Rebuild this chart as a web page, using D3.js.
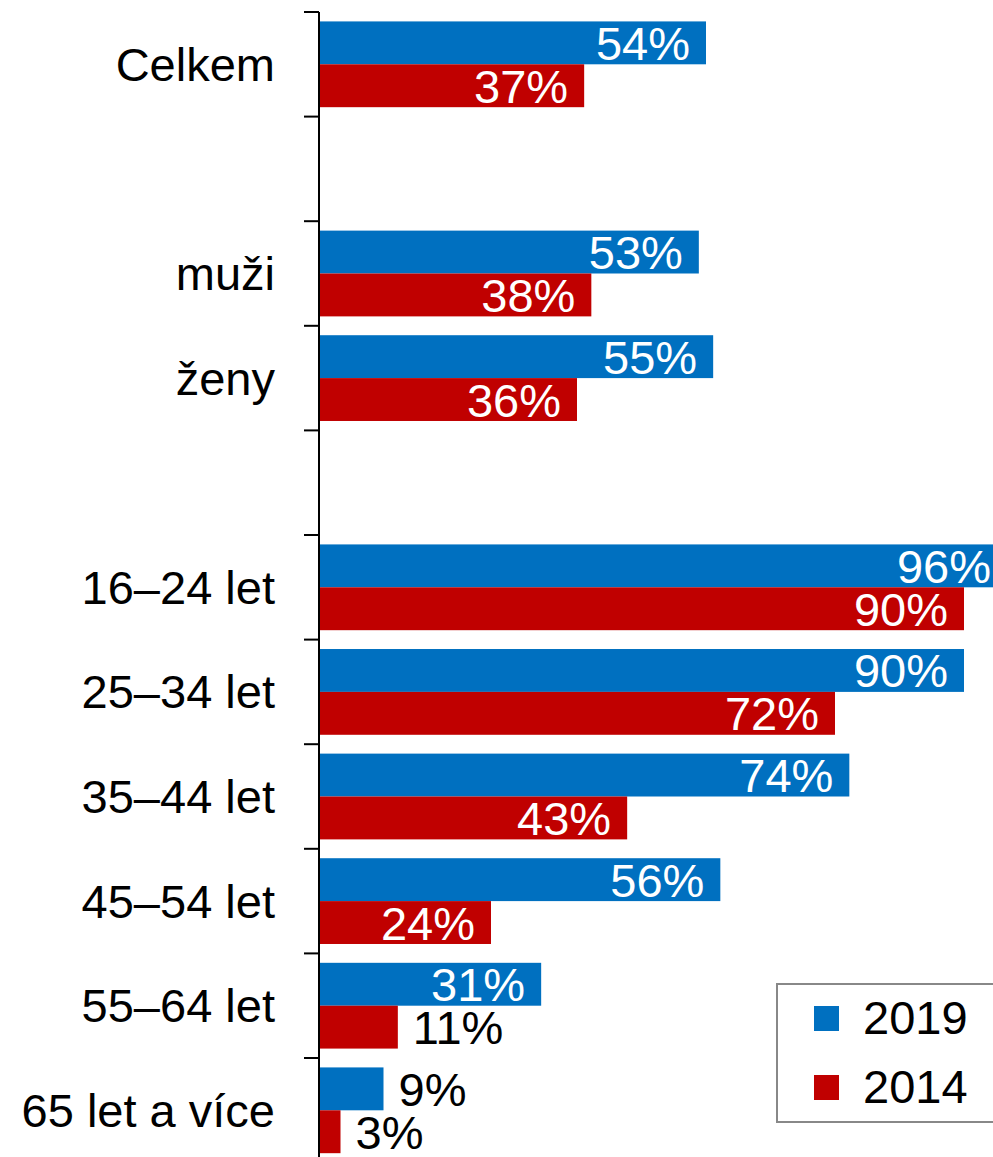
<!DOCTYPE html>
<html><head><meta charset="utf-8">
<script src="https://cdn.jsdelivr.net/npm/d3@7"></script>
<style>body{margin:0;background:#fff}svg{display:block;font-family:"Liberation Sans",Arial,sans-serif}</style>
</head><body><svg id="c" width="993" height="1157"></svg>
<script>
const categories = ["Celkem", "", "muži", "ženy", "", "16–24 let", "25–34 let", "35–44 let", "45–54 let", "55–64 let", "65 let a více"];
const values2019 = [54, null, 53, 55, null, 96, 90, 74, 56, 31, 9];
const values2014 = [37, null, 38, 36, null, 90, 72, 43, 24, 11, 3];
const seriesNames = ["2019", "2014"];
const colors = ["#0070C0", "#C00000"];

const svg = d3.select("#c");
const x0 = 319, plotTop = 12, step = 104.6;
const x = d3.scaleLinear().domain([0, 90]).range([x0, 964]);
const y = d3.scaleBand().domain(d3.range(categories.length))
  .range([plotTop, plotTop + step * categories.length]).paddingInner(0.18).paddingOuter(0.09);
const ys = d3.scaleBand().domain(seriesNames).range([0, y.bandwidth()]);
const fs = 47;

const rows = categories.map((c, i) => ({i, c, vals: [values2019[i], values2014[i]]}));

// bars
rows.forEach(r => {
  r.vals.forEach((v, k) => {
    if (v == null) return;
    const by = y(r.i) + ys(seriesNames[k]);
    const bw = x(v) - x0;
    svg.append("rect").attr("x", x0).attr("y", by).attr("width", bw).attr("height", ys.bandwidth())
      .attr("fill", colors[k]);
    const inside = bw > 120;
    svg.append("text")
      .attr("x", inside ? x(v) - 16 : x(v) + 15)
      .attr("y", by + ys.bandwidth() / 2 + 17)
      .attr("text-anchor", inside ? "end" : "start")
      .attr("fill", inside ? "#fff" : "#000")
      .attr("font-size", fs)
      .text(v + "%");
  });
});

// axis line and ticks
svg.append("line").attr("x1", x0).attr("x2", x0).attr("y1", plotTop).attr("y2", 1157)
  .attr("stroke", "#000").attr("stroke-width", 2);
d3.range(categories.length + 1).forEach(i => {
  const ty = plotTop + i * y.step();
  svg.append("line").attr("x1", x0 - 15).attr("x2", x0).attr("y1", ty).attr("y2", ty)
    .attr("stroke", "#000").attr("stroke-width", 2);
});

// category labels
svg.append("g").selectAll("text").data(rows).join("text")
  .attr("x", 275).attr("y", d => y(d.i) + y.bandwidth() / 2 + 16.5)
  .attr("text-anchor", "end").attr("font-size", fs).attr("fill", "#000")
  .text(d => d.c);

// legend
const lg = svg.append("g");
lg.append("rect").attr("x", 777).attr("y", 984).attr("width", 230).attr("height", 138)
  .attr("fill", "#fff").attr("stroke", "#888").attr("stroke-width", 2);
seriesNames.forEach((s, k) => {
  const ly = 1006 + k * 69;
  lg.append("rect").attr("x", 814).attr("y", ly).attr("width", 25).attr("height", 25).attr("fill", colors[k]);
  lg.append("text").attr("x", 863).attr("y", ly + 28).attr("font-size", fs).attr("fill", "#000").text(s);
});
</script></body></html>
